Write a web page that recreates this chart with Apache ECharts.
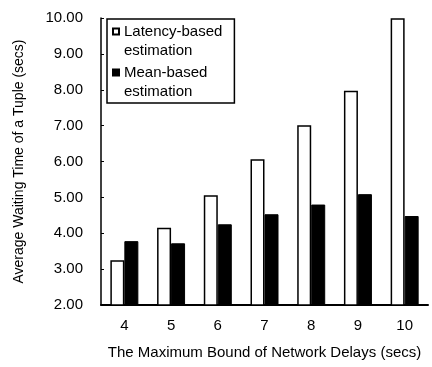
<!DOCTYPE html>
<html>
<head>
<meta charset="utf-8">
<script src="https://cdn.jsdelivr.net/npm/echarts@6/dist/echarts.min.js"></script>
<style>
html,body{margin:0;padding:0;background:#fff;}
#c{width:432px;height:367px;}
</style>
</head>
<body>
<div id="c"></div>
<script>
var categories = ['4', '5', '6', '7', '8', '9', '10'];
var latencyBased = [3.25, 4.15, 5.06, 6.06, 7.01, 7.97, 9.99];
var meanBased = [3.78, 3.72, 4.25, 4.53, 4.80, 5.09, 4.48];
var yTickMin = 2, yTickMax = 10, yTickStep = 1;
var seriesNames = ['Latency-based\nestimation', 'Mean-based\nestimation'];
var xTitle = 'The Maximum Bound of Network Delays (secs)';
var yTitle = 'Average Waiting Time of a Tuple (secs)';

var FONT = '"Liberation Sans", Arial, sans-serif';
var chart = echarts.init(document.getElementById('c'), null, {renderer: 'canvas'});
var legendIcon = 'path://M0,0L6,0L6,6L0,6Z M0,25';
chart.setOption({
  animation: false,
  backgroundColor: '#fff',
  grid: {left: 101, right: 4, top: 18, bottom: 62, containLabel: false},
  legend: {
    orient: 'vertical',
    left: 107, top: 19,
    padding: [3, 12, 2, 5],
    itemGap: 3,
    itemWidth: 6, itemHeight: 25,
    borderColor: '#000', borderWidth: 1.5,
    icon: legendIcon,
    textStyle: {fontFamily: FONT, fontSize: 15, color: '#000', lineHeight: 19},
    data: seriesNames
  },
  xAxis: {
    type: 'category',
    data: categories,
    name: xTitle,
    nameLocation: 'middle',
    nameGap: 40,
    nameTextStyle: {fontFamily: FONT, fontSize: 15, color: '#000'},
    axisLine: {lineStyle: {color: '#000', width: 2}},
    axisTick: {inside: true, length: 3, lineStyle: {color: '#000'}},
    axisLabel: {fontFamily: FONT, fontSize: 15, color: '#000', margin: 13},
    splitLine: {show: false}
  },
  yAxis: {
    type: 'value',
    min: yTickMin, max: yTickMax, interval: yTickStep,
    name: yTitle,
    nameLocation: 'middle',
    nameGap: 75,
    nameTextStyle: {fontFamily: FONT, fontSize: 14, color: '#000'},
    axisLine: {show: true, lineStyle: {color: '#000', width: 1.5}},
    axisTick: {show: true, inside: true, length: 3, lineStyle: {color: '#000'}},
    axisLabel: {fontFamily: FONT, fontSize: 15, color: '#000', margin: 18,
      formatter: function (v) { return v.toFixed(2); }},
    splitLine: {show: false}
  },
  series: [
    {
      name: seriesNames[0], type: 'bar', data: latencyBased,
      barWidth: 14, barGap: '0%',
      itemStyle: {color: '#fff', borderColor: '#000', borderWidth: 1.5}
    },
    {
      name: seriesNames[1], type: 'bar', data: meanBased,
      barWidth: 14, barGap: '0%',
      itemStyle: {color: '#000', borderColor: '#000', borderWidth: 1}
    }
  ]
});
</script>
</body>
</html>
